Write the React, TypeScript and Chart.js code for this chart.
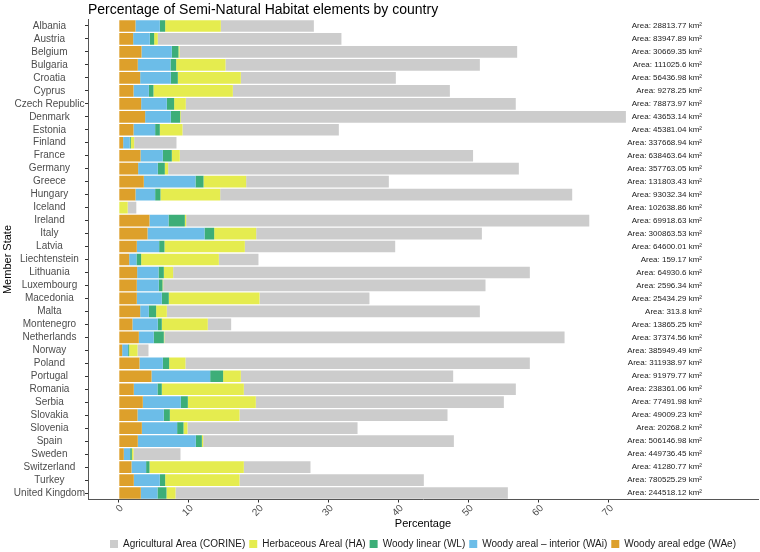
import React, { useEffect, useRef } from "react";
import { Chart, registerables } from "chart.js";

Chart.register(...registerables);

const countries = [
  "Albania", "Austria", "Belgium", "Bulgaria", "Croatia", "Cyprus", "Czech Republic",
  "Denmark", "Estonia", "Finland", "France", "Germany", "Greece", "Hungary", "Iceland",
  "Ireland", "Italy", "Latvia", "Liechtenstein", "Lithuania", "Luxembourg", "Macedonia",
  "Malta", "Montenegro", "Netherlands", "Norway", "Poland", "Portugal", "Romania",
  "Serbia", "Slovakia", "Slovenia", "Spain", "Sweden", "Switzerland", "Turkey", "United Kingdom",
];

const woodyEdge = [2.38, 2.05, 3.24, 2.71, 3.05, 2.1, 3.19, 3.76, 2.1, 0.62, 3.1, 2.76, 3.57, 2.38, 0, 4.38, 4.1, 2.57, 1.48, 2.62, 2.57, 2.57, 3.05, 1.95, 2.86, 0.48, 2.95, 4.67, 2.14, 3.43, 2.67, 3.29, 2.71, 0.71, 1.81, 2.14, 3.14];
const woodyInterior = [3.48, 2.38, 4.33, 4.67, 4.38, 2.19, 3.67, 3.67, 3.09, 0.95, 3.19, 2.81, 7.38, 2.81, 0, 2.72, 8.14, 3.19, 1.04, 3.05, 3.14, 3.57, 1.24, 3.62, 2.14, 0.85, 3.34, 8.38, 3.38, 5.43, 3.76, 5.04, 8.29, 0.91, 2.09, 3.72, 2.38];
const woodyLinear = [0.76, 0.62, 0.95, 0.81, 1.0, 0.66, 1.04, 1.33, 0.67, 0.14, 1.28, 1.0, 1.15, 0.76, 0, 2.33, 1.38, 0.76, 0.67, 0.76, 0.53, 1.0, 1.04, 0.57, 1.43, 0.15, 0.9, 1.85, 0.62, 1.0, 0.86, 0.91, 0.86, 0.24, 0.48, 0.76, 1.29];
const herbaceous = [7.95, 0.52, 0.15, 7.05, 9.0, 11.34, 1.67, 0.1, 3.24, 0.48, 1.14, 0.48, 6.09, 8.53, 1.27, 0.19, 6.0, 11.48, 11.1, 1.33, 0.09, 12.96, 1.53, 6.57, 0.07, 1.19, 2.33, 2.53, 11.72, 9.71, 9.95, 0.57, 0.19, 0.24, 13.48, 10.62, 1.29];
const agricultural = [13.29, 26.23, 48.23, 36.33, 22.14, 31.0, 47.13, 63.57, 22.33, 6.05, 41.89, 50.09, 20.38, 50.28, 1.23, 57.58, 32.24, 21.48, 5.66, 50.95, 46.05, 15.7, 44.71, 3.34, 57.17, 1.57, 49.19, 30.33, 38.85, 35.43, 29.71, 24.29, 35.81, 6.71, 9.52, 26.33, 47.47];

const areas = [
  "28813.77", "83947.89", "30669.35", "111025.6", "56436.98", "9278.25", "78873.97",
  "43653.14", "45381.04", "337668.94", "638463.64", "357763.05", "131803.43", "93032.34",
  "102638.86", "69918.63", "300863.53", "64600.01", "159.17", "64930.6", "2596.34",
  "25434.29", "313.8", "13865.25", "37374.56", "385949.49", "311938.97", "91979.77",
  "238361.06", "77491.98", "49009.23", "20268.2", "506146.98", "449736.45", "41280.77",
  "780525.29", "244518.12",
];

const xTicks = [0, 10, 20, 30, 40, 50, 60, 70];
const X_MIN = -4.4;
const X_MAX = 91.3;
const AREA_LABEL_X = 83.3;

const FONT = "'Liberation Sans', Arial, Helvetica, sans-serif";

const areaLabelPlugin = {
  id: "areaLabels",
  afterDatasetsDraw(chart: any) {
    const { ctx, scales } = chart;
    const xs = scales.x;
    const ys = scales.y;
    ctx.save();
    ctx.font = `8px ${FONT}`;
    ctx.fillStyle = "#1a1a1a";
    ctx.textAlign = "right";
    ctx.textBaseline = "middle";
    const x = xs.getPixelForValue(AREA_LABEL_X);
    areas.forEach((a, i) => {
      ctx.fillText(`Area: ${a} km²`, x, ys.getPixelForValue(i));
    });
    ctx.restore();
  },
};

const legendShiftPlugin = {
  id: "legendShift",
  afterLayout(chart: any) {
    const lg = chart.legend;
    if (lg) {
      lg.top += 7;
      lg.bottom += 7;
    }
  },
};

export default function App() {
  const ref = useRef<HTMLCanvasElement | null>(null);

  useEffect(() => {
    if (!ref.current) return;
    Chart.defaults.font.family = FONT;
    const chart = new Chart(ref.current, {
      type: "bar",
      data: {
        labels: countries,
        datasets: [
          { label: "Woody areal edge (WAe)", data: woodyEdge, backgroundColor: "#DDA02B" },
          { label: "Woody areal – interior (WAi)", data: woodyInterior, backgroundColor: "#6CBDE8" },
          { label: "Woody linear (WL)", data: woodyLinear, backgroundColor: "#3DAE78" },
          { label: "Herbaceous Areal (HA)", data: herbaceous, backgroundColor: "#E5EC4F" },
          { label: "Agricultural Area (CORINE)", data: agricultural, backgroundColor: "#CCCCCC" },
        ].map((d) => ({ ...d, borderWidth: 0, barPercentage: 0.9, categoryPercentage: 1.0 })),
      },
      options: {
        indexAxis: "y",
        responsive: false,
        animation: false,
        devicePixelRatio: 1,
        layout: { padding: { left: 2, right: 2, top: 0, bottom: 0 } },
        scales: {
          x: {
            type: "linear",
            stacked: true,
            min: X_MIN,
            max: X_MAX,
            afterBuildTicks: (scale: any) => {
              scale.ticks = xTicks.map((v) => ({ value: v }));
            },
            afterFit: (scale: any) => {
              scale.height = 28.5;
            },
            ticks: {
              minRotation: 45,
              maxRotation: 45,
              padding: 0,
              labelOffset: 3,
              color: "#4d4d4d",
              font: { size: 10 },
            },
            grid: { drawOnChartArea: false, drawTicks: true, tickLength: 3, color: "#333333" },
            border: { display: true, color: "#555555", width: 1 },
            title: {
              display: true,
              text: "Percentage",
              color: "#000000",
              font: { size: 11, lineHeight: 1 },
              padding: { top: 0, bottom: -1 },
            },
          },
          y: {
            type: "category",
            stacked: true,
            offset: true,
            afterFit: (scale: any) => {
              scale.width = 86;
            },
            ticks: {
              crossAlign: "center",
              padding: 0,
              color: "#4d4d4d",
              font: { size: 10 },
              autoSkip: false,
            },
            grid: { drawOnChartArea: false, drawTicks: true, tickLength: 3, color: "#333333", offset: false },
            border: { display: true, color: "#555555", width: 1 },
            title: {
              display: true,
              text: "Member State",
              color: "#000000",
              font: { size: 11, lineHeight: 1 },
              padding: 0,
            },
          },
        },
        plugins: {
          title: {
            display: true,
            text: "Percentage of Semi-Natural Habitat elements by country",
            align: "start",
            fullSize: false,
            color: "#000000",
            font: { size: 14, weight: "normal", lineHeight: 1.2 },
            padding: { top: 1.5, bottom: 1.2 },
          },
          legend: {
            display: true,
            position: "bottom",
            align: "center",
            fullSize: false,
            reverse: true,
            labels: {
              boxWidth: 8,
              boxHeight: 8,
              padding: 4,
              color: "#1a1a1a",
              font: { size: 10 },
            },
          },
          tooltip: { enabled: false },
        },
      },
      plugins: [areaLabelPlugin, legendShiftPlugin],
    } as any);
    return () => chart.destroy();
  }, []);

  return (
    <div style={{ position: "fixed", left: 0, top: 0, width: 760, height: 552, background: "#ffffff" }}>
      <canvas ref={ref} width={760} height={552} style={{ display: "block" }} />
    </div>
  );
}
